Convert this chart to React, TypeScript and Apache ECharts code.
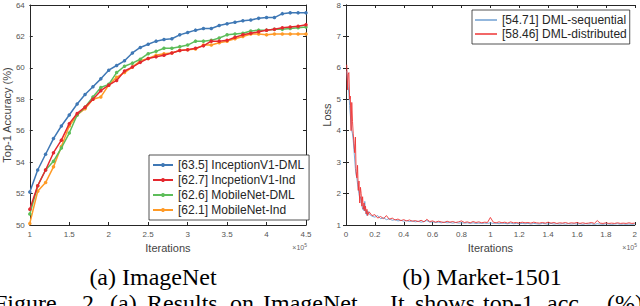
import React, { useEffect, useRef } from "react";
import * as echarts from "echarts";

// ---------- (a) ImageNet ----------
const iterA = [1.0, 1.1, 1.2, 1.3, 1.4, 1.5, 1.6, 1.7, 1.8, 1.9, 2.0, 2.1, 2.2, 2.3, 2.4, 2.5, 2.6, 2.7, 2.8, 2.9, 3.0, 3.1, 3.2, 3.3, 3.4, 3.5, 3.6, 3.7, 3.8, 3.9, 4.0, 4.1, 4.2, 4.3, 4.4, 4.5];
const inceptionDML = [52.1, 53.5, 54.5, 55.5, 56.3, 57.0, 57.7, 58.3, 58.8, 59.3, 59.85, 60.15, 60.45, 60.95, 61.3, 61.5, 61.7, 61.8, 61.85, 62.1, 62.25, 62.4, 62.5, 62.5, 62.7, 62.8, 62.9, 63.0, 63.05, 63.15, 63.2, 63.2, 63.45, 63.5, 63.5, 63.5];
const inceptionInd = [51.0, 52.5, 53.5, 54.6, 55.4, 56.45, 57.1, 57.5, 58.0, 58.55, 58.9, 59.2, 59.8, 60.05, 60.35, 60.6, 60.7, 60.8, 60.95, 61.1, 61.15, 61.25, 61.4, 61.7, 61.7, 61.75, 61.95, 62.1, 62.2, 62.3, 62.4, 62.45, 62.55, 62.6, 62.65, 62.75];
const mobileDML = [50.7, 52.5, 53.5, 54.05, 54.9, 55.85, 57.0, 57.5, 58.15, 58.75, 58.95, 59.7, 60.1, 60.3, 60.55, 60.9, 61.05, 61.25, 61.25, 61.35, 61.45, 61.7, 61.7, 61.75, 61.9, 62.1, 62.15, 62.2, 62.35, 62.4, 62.4, 62.45, 62.45, 62.5, 62.55, 62.6];
const mobileInd = [50.1, 52.15, 52.7, 53.7, 55.0, 56.3, 57.0, 57.4, 58.0, 58.15, 58.9, 59.4, 59.7, 60.05, 60.45, 60.6, 60.8, 60.9, 60.95, 61.1, 61.15, 61.2, 61.45, 61.45, 61.6, 61.7, 61.85, 62.0, 62.15, 62.15, 62.1, 62.15, 62.15, 62.15, 62.15, 62.15];
const namesA = ["[63.5] InceptionV1-DML", "[62.7] IncpetionV1-Ind", "[62.6] MobileNet-DML", "[62.1] MobileNet-Ind"];
const colorsA = ["#3f78b5", "#e4282e", "#5dbd5a", "#ff9a26"];
const xTicksA = { min: 1, max: 4.5, interval: 0.5 };
const yTicksA = { min: 50, max: 64, interval: 2 };

// ---------- (b) Market-1501 ----------
// iterations in thousands
const iterB = [0.5, 1, 1.5, 2, 2.5, 3, 3.5, 4, 4.5, 5, 5.5, 6, 6.5, 7, 7.5, 8, 8.5, 9, 9.5, 10, 10.5, 11, 11.5, 12, 12.5, 13, 13.5, 14, 14.5, 15,
  16, 18, 20, 22, 24, 26, 28, 30, 32, 34, 36, 38, 40, 42, 44, 46, 48, 50, 52, 54, 56, 58, 60, 62, 64, 66, 68, 70, 72, 74, 76, 78, 80,
  82, 84, 86, 88, 90, 92, 94, 96, 98, 100, 102, 104, 106, 108, 110, 112, 114, 116, 118, 120, 122, 124, 126, 128, 130, 132, 134, 136, 138, 140,
  142, 144, 146, 148, 150, 152, 154, 156, 158, 160, 162, 164, 166, 168, 170, 172, 174, 176, 178, 180, 182, 184, 186, 188, 190, 192, 194, 196, 198, 200];
const lossSeq = [5.9, 5.6, 5.4, 5.2, 4.8, 4.5, 4.2, 4.0, 3.9, 3.7, 3.4, 3.1, 2.8, 2.6, 2.5, 2.3, 2.15, 2.0, 1.85, 1.9, 1.7, 1.65, 1.5, 1.55, 1.45, 1.75, 1.4, 1.35, 1.3, 1.45,
  1.35, 1.28, 1.25, 1.30, 1.20, 1.23, 1.17, 1.20, 1.15, 1.17, 1.13, 1.15, 1.12, 1.14, 1.11, 1.13, 1.10, 1.12, 1.09, 1.11, 1.14, 1.09, 1.10, 1.08, 1.09, 1.07, 1.09, 1.07, 1.08, 1.06, 1.08, 1.06, 1.07,
  1.06, 1.07, 1.05, 1.07, 1.05, 1.06, 1.05, 1.06, 1.05, 1.07, 1.05, 1.06, 1.04, 1.06, 1.05, 1.04, 1.06, 1.04, 1.05, 1.04, 1.05, 1.04, 1.05, 1.03, 1.05, 1.04, 1.03, 1.05, 1.04, 1.03,
  1.05, 1.03, 1.04, 1.03, 1.04, 1.03, 1.04, 1.03, 1.04, 1.03, 1.04, 1.02, 1.04, 1.03, 1.04, 1.02, 1.04, 1.03, 1.02, 1.04, 1.03, 1.02, 1.03, 1.04, 1.02, 1.03, 1.02, 1.03, 1.02, 1.03];
const lossDist = [6.1, 5.3, 5.8, 5.85, 5.0, 5.1, 4.0, 4.9, 4.3, 3.9, 3.6, 3.3, 3.8, 2.7, 2.5, 2.9, 2.1, 2.4, 1.7, 2.2, 2.0, 1.6, 1.9, 1.5, 1.7, 1.45, 1.6, 1.35, 1.5, 1.3,
  1.42, 1.30, 1.33, 1.22, 1.27, 1.20, 1.30, 1.18, 1.22, 1.16, 1.19, 1.14, 1.17, 1.13, 1.16, 1.12, 1.14, 1.11, 1.15, 1.10, 1.18, 1.11, 1.13, 1.09, 1.12, 1.10, 1.08, 1.12, 1.09, 1.11, 1.08, 1.10, 1.13,
  1.08, 1.10, 1.07, 1.11, 1.08, 1.10, 1.07, 1.09, 1.08, 1.24, 1.09, 1.07, 1.10, 1.07, 1.09, 1.06, 1.10, 1.07, 1.08, 1.06, 1.09, 1.07, 1.08, 1.06, 1.09, 1.07, 1.06, 1.08, 1.06, 1.09,
  1.06, 1.08, 1.05, 1.07, 1.06, 1.08, 1.05, 1.07, 1.06, 1.08, 1.05, 1.07, 1.05, 1.06, 1.08, 1.05, 1.14, 1.06, 1.05, 1.07, 1.05, 1.06, 1.05, 1.07, 1.05, 1.06, 1.05, 1.07, 1.05, 1.06];
const namesB = ["[54.71] DML-sequential", "[58.46] DML-distributed"];
const colorsB = ["#6f9fd2", "#ee3535"];
const xTicksB = { min: 0, max: 2, interval: 0.2 };
const yTicksB = { min: 1, max: 8, interval: 1 };

const SANS = "Liberation Sans";
const AXIS = "#262626";
const LABEL = "#555555";
const serifFont = (px: number) => `${px}px "Liberation Serif", "Times New Roman", serif`;

function makeAxes(gridIndex: number, ticks: any, isX: boolean, name: string, nameGap: number) {
  const common = {
    gridIndex,
    type: "value",
    min: ticks.min,
    max: ticks.max,
    interval: ticks.interval,
    splitLine: { show: false },
    axisLine: { show: true, lineStyle: { color: AXIS, width: 1 } },
    axisTick: { show: true, inside: true, length: 3, lineStyle: { color: AXIS } },
  };
  const main: any = {
    ...common,
    position: isX ? "bottom" : "left",
    axisLabel: { fontSize: 8, color: LABEL, fontFamily: SANS, margin: 5 },
    name,
    nameLocation: "middle",
    nameGap,
    nameTextStyle: { fontSize: 11, color: "#444", fontFamily: SANS },
  };
  if (!isX) main.nameRotate = 90;
  const other: any = { ...common, position: isX ? "top" : "right", axisLabel: { show: false } };
  return [main, other];
}

export default function App() {
  const ref = useRef<HTMLDivElement>(null);
  useEffect(() => {
    if (!ref.current) return;
    const chart = echarts.init(ref.current, null, { renderer: "svg" });
    const seriesA = [inceptionDML, inceptionInd, mobileDML, mobileInd].map((vals, i) => ({
      type: "line",
      name: namesA[i],
      xAxisIndex: 0,
      yAxisIndex: 0,
      data: iterA.map((x, j) => [x, vals[j]]),
      symbol: "circle",
      symbolSize: 3.5,
      showSymbol: true,
      lineStyle: { width: 1.5, color: colorsA[i] },
      itemStyle: { color: colorsA[i] },
      z: 10 - i,
    }));
    const seriesB = [lossSeq, lossDist].map((vals, i) => ({
      type: "line",
      name: namesB[i],
      xAxisIndex: 2,
      yAxisIndex: 2,
      data: iterB.map((k, j) => [k / 100, vals[j]]),
      symbol: "none",
      lineStyle: { width: 1, color: colorsB[i], opacity: 0.9 },
      itemStyle: { color: colorsB[i] },
      z: 5 + i,
    }));
    const [xa0, xa1] = makeAxes(0, xTicksA, true, "Iterations", 15);
    const [xb0, xb1] = makeAxes(1, xTicksB, true, "Iterations", 15);
    const [ya0, ya1] = makeAxes(0, yTicksA, false, "Top-1 Accuracy (%)", 11);
    const [yb0, yb1] = makeAxes(1, yTicksB, false, "Loss", 9);
    const legendCommon = {
      orient: "vertical",
      backgroundColor: "#fff",
      borderColor: AXIS,
      borderWidth: 0.8,
      borderRadius: 0,
      itemGap: 3,
      itemTextGap: 3,
      textStyle: { fontSize: 12, color: "#262626", fontFamily: SANS },
      selectedMode: false,
    };
    const sup = (x: number) => ({
      type: "text",
      x,
      y: 247,
      style: {
        text: "{a|×10}{b|5}",
        align: "right",
        verticalAlign: "middle",
        rich: {
          a: { fontSize: 7, fill: "#666", fontFamily: SANS },
          b: { fontSize: 5, fill: "#666", fontFamily: SANS, padding: [0, 0, 5, 0] },
        },
      },
    });
    const capWords: [string, number][] = [
      ["Figure", -6], ["2.", 82], ["(a)", 110], ["Results", 147], ["on", 230], ["ImageNet.", 263],
      ["It", 390], ["shows", 415], ["top-1", 483], ["acc.", 547], ["(%)", 607],
    ];
    const option: any = {
      animation: false,
      backgroundColor: "#fff",
      grid: [
        { left: 24, top: 5, width: 282, height: 220 },
        { left: 346, top: 5, width: 290, height: 220 },
      ],
      xAxis: [xa0, xa1, xb0, xb1],
      yAxis: [ya0, ya1, yb0, yb1],
      legend: [
        { ...legendCommon, data: namesA, left: 149, top: 155, padding: [4, 5, 4, 3], itemWidth: 20, itemHeight: 5 },
        {
          ...legendCommon,
          data: namesB.map((n) => ({ name: n, icon: "rect" })),
          left: 472, top: 10, itemGap: 2, padding: [4, 3, 4, 3], itemWidth: 22, itemHeight: 1.5,
        },
      ],
      series: [...seriesA, ...seriesB],
      graphic: [
        sup(307),
        sup(637),
        { type: "text", x: 153, y: 277, style: { text: "(a) ImageNet", font: serifFont(24), fill: "#000", align: "center", verticalAlign: "middle" } },
        { type: "text", x: 482, y: 277, style: { text: "(b) Market-1501", font: serifFont(24), fill: "#000", align: "center", verticalAlign: "middle" } },
        ...capWords.map(([w, x]) => ({
          type: "text", x, y: 291,
          style: { text: w, font: serifFont(24), fill: "#000", align: "left", verticalAlign: "top" },
        })),
      ],
    };
    chart.setOption(option);
    return () => chart.dispose();
  }, []);
  return <div ref={ref} style={{ width: 640, height: 306, position: "absolute", left: 0, top: 0 }} />;
}
